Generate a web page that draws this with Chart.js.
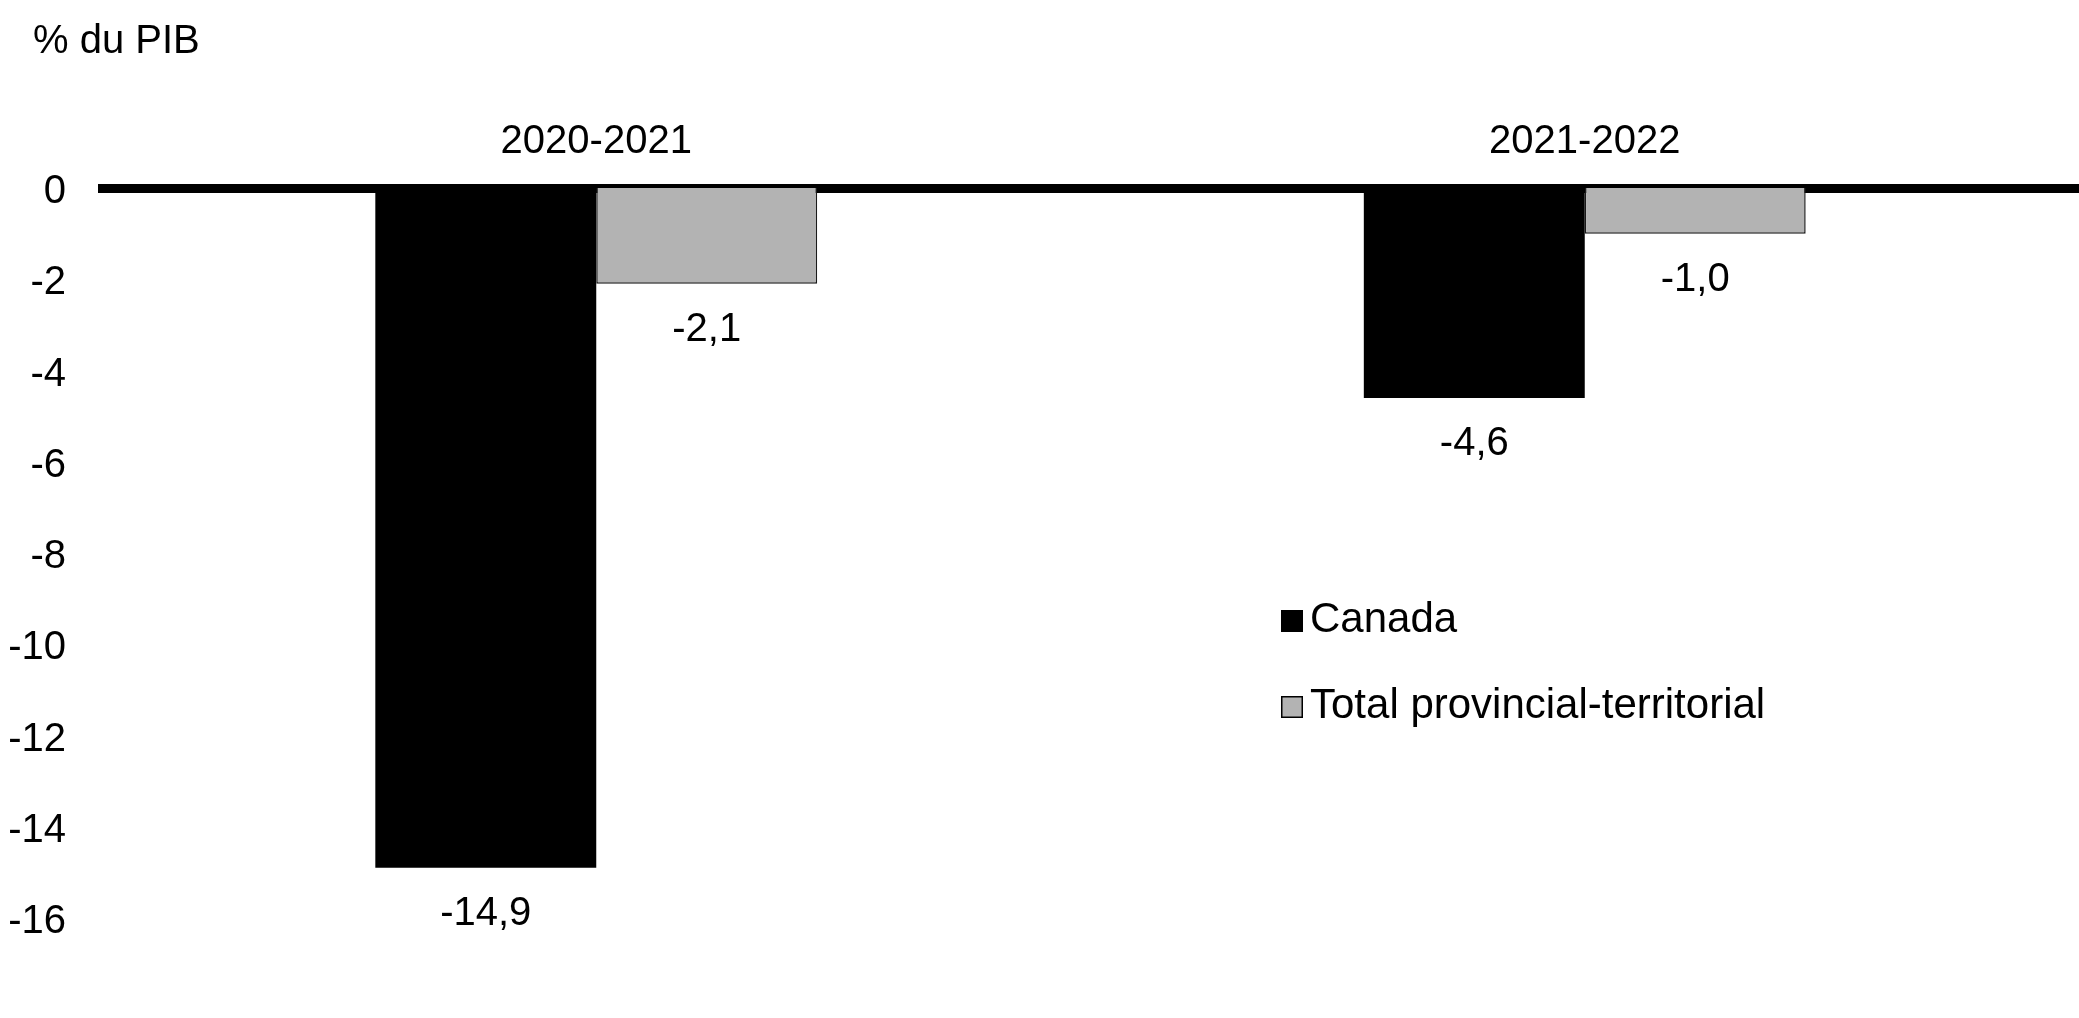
<!DOCTYPE html>
<html>
<head>
<meta charset="utf-8">
<script src="https://cdn.jsdelivr.net/npm/chart.js@4.4.1/dist/chart.umd.min.js"></script>
<style>
  html, body { margin: 0; padding: 0; background: #fff; }
  #wrap { width: 2079px; height: 1018px; position: relative; }
</style>
</head>
<body>
<div id="wrap"><canvas id="chart"></canvas></div>
<script>
const categories = ['2020-2021', '2021-2022'];
const seriesNames = ['Canada', 'Total provincial-territorial'];
const canadaValues = [-14.9, -4.6];
const provTerrValues = [-2.1, -1.0];
const yTitle = '% du PIB';

const FONT = "'Liberation Sans', Arial, sans-serif";
const frNumber = v => v.toFixed(1).replace('.', ',');

// value labels under each bar end
const valueLabels = {
  id: 'valueLabels',
  afterDatasetsDraw (chart) {
    const ctx = chart.ctx;
    ctx.save();
    ctx.font = '40px ' + FONT;
    ctx.fillStyle = '#000';
    ctx.textAlign = 'center';
    ctx.textBaseline = 'alphabetic';
    chart.data.datasets.forEach((ds, i) => {
      chart.getDatasetMeta(i).data.forEach((bar, j) => {
        ctx.fillText(frNumber(ds.data[j]), bar.x, bar.y + 57);
      });
    });
    ctx.restore();
  }
};

// unit label top left + legend inside the plot
const extras = {
  id: 'extras',
  afterDraw (chart) {
    const ctx = chart.ctx;
    ctx.save();
    ctx.font = '40px ' + FONT;
    ctx.fillStyle = '#000';
    ctx.textAlign = 'left';
    ctx.textBaseline = 'alphabetic';
    ctx.fillText(yTitle, 33, 53);

    ctx.font = '42px ' + FONT;
    const legendX = 1281;
    const legendY = [632, 718];
    chart.data.datasets.forEach((ds, i) => {
      const base = legendY[i];
      ctx.fillStyle = ds.backgroundColor;
      ctx.fillRect(legendX, base - 22, 22, 22);
      ctx.lineWidth = 1.5;
      ctx.strokeStyle = '#000';
      ctx.strokeRect(legendX + 0.75, base - 21.25, 20.5, 20.5);
      ctx.fillStyle = '#000';
      ctx.fillText(ds.label, legendX + 29, base);
    });
    ctx.restore();
  }
};

new Chart(document.getElementById('chart'), {
  type: 'bar',
  data: {
    labels: categories,
    datasets: [
      {
        label: seriesNames[0],
        data: canadaValues,
        backgroundColor: '#000000',
        borderColor: '#000000',
        borderWidth: 0
      },
      {
        label: seriesNames[1],
        data: provTerrValues,
        backgroundColor: '#b3b3b3',
        borderColor: '#1a1a1a',
        borderWidth: 1.5
      }
    ]
  },
  options: {
    responsive: true,
    maintainAspectRatio: false,
    animation: false,
    devicePixelRatio: 1,
    layout: {
      padding: { top: 114, left: 7, right: 0, bottom: 100 }
    },
    datasets: {
      bar: { categoryPercentage: 0.447, barPercentage: 1.0 }
    },
    plugins: {
      legend: { display: false },
      title: { display: false },
      tooltip: { enabled: false }
    },
    scales: {
      x: {
        position: 'top',
        z: 1,
        grid: { display: false, drawTicks: false },
        border: { display: true, color: '#000', width: 9 },
        ticks: {
          color: '#000',
          padding: 22,
          font: { family: FONT, size: 40 }
        },
        afterFit (scale) { scale.height = 74; }
      },
      y: {
        min: -16,
        max: 0,
        grid: { display: false, drawTicks: false },
        border: { display: false },
        ticks: {
          stepSize: 2,
          color: '#000',
          padding: 36,
          labelOffset: 4,
          font: { family: FONT, size: 40 }
        },
        afterFit (scale) { scale.width = 95; }
      }
    }
  },
  plugins: [valueLabels, extras]
});
</script>
</body>
</html>
